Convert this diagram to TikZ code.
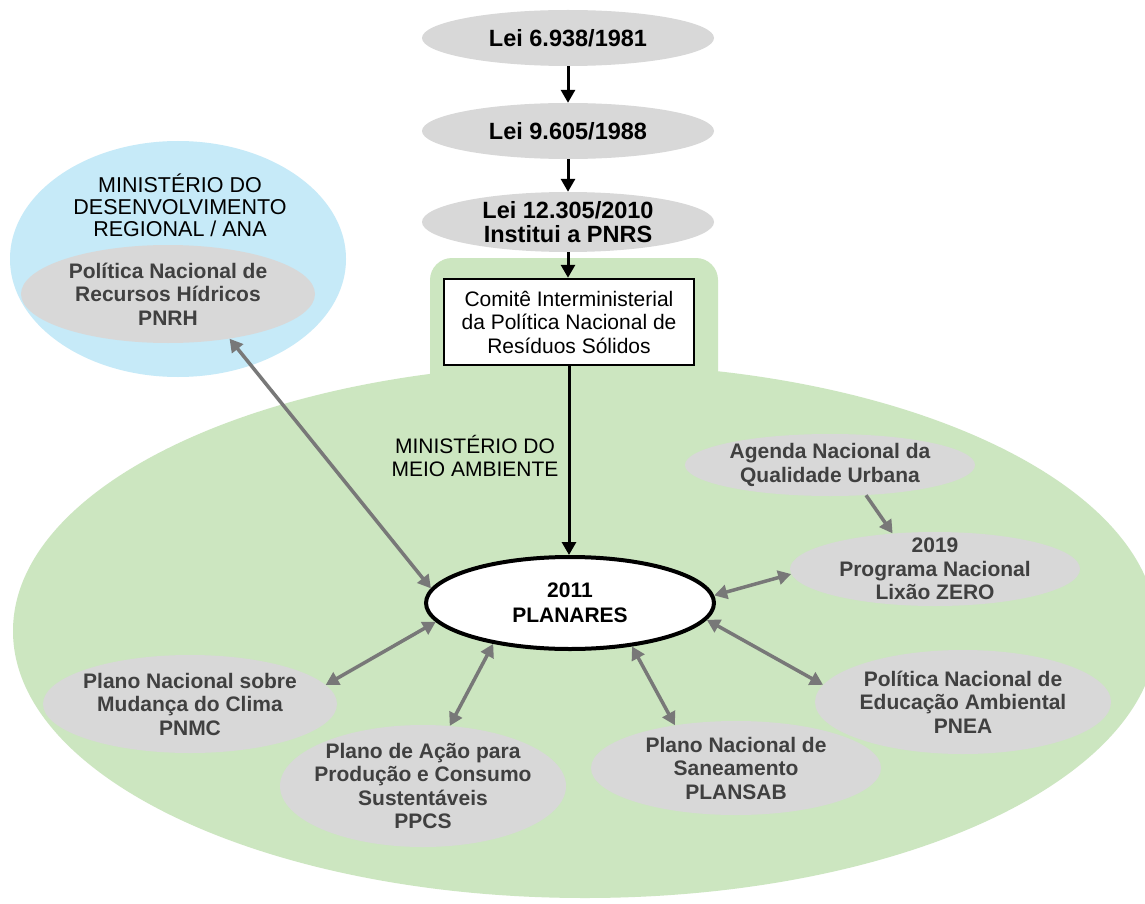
\documentclass[tikz,border=0pt]{standalone}
\usepackage{fontspec}
\setmainfont{Liberation Sans}
\usetikzlibrary{shapes.geometric,arrows.meta}
\definecolor{zonegreen}{RGB}{204,230,192}
\definecolor{zoneblue}{RGB}{198,234,248}
\definecolor{planfill}{RGB}{216,216,216}
\definecolor{plantext}{RGB}{64,64,64}
\definecolor{linkgrey}{RGB}{120,120,120}
\tikzset{
  law/.style={ellipse, fill=planfill, inner sep=-8pt, minimum width=292pt, minimum height=56pt,
    font=\fontsize{23.5}{23.5}\selectfont\bfseries, align=center, text=black},
  plan/.style={ellipse, fill=planfill, inner sep=-10pt, font=\fontsize{21}{23.5}\selectfont\bfseries,
    align=center, text=plantext},
  flow/.style={line width=3pt, -{Triangle[length=13pt,width=14pt]}},
  link/.style={line width=3.5pt, draw=linkgrey, {Triangle[length=13pt,width=14pt]}-{Triangle[length=13pt,width=14pt]}},
  onelink/.style={line width=3.5pt, draw=linkgrey, -{Triangle[length=13pt,width=14pt]}},
  plain/.style={font=\fontsize{21}{23.5}\selectfont, align=center}
}
\begin{document}
\begin{tikzpicture}[x=1pt,y=-1pt]
\useasboundingbox (0,0) rectangle (1145,904);
\fill[white] (0,0) rectangle (1145,904);
% green zone of the environment ministry
\fill[zonegreen] (585,631) ellipse [x radius=572, y radius=267];
\fill[zonegreen, rounded corners=22pt] (430,258) rectangle (718,420);
% blue zone of the regional development ministry
\fill[zoneblue] (178,259) ellipse [x radius=168, y radius=118];
\node[plain, font=\fontsize{21.5}{22}\selectfont] (mdr) at (180,205) {MINISTÉRIO DO\\DESENVOLVIMENTO\\REGIONAL / ANA};
\node[plan, minimum width=294pt, minimum height=98pt] (pnrh) at (168,294)
  {Política Nacional de\\Recursos Hídricos\\PNRH};

% chain of laws
\node[law] (lei1) at (568,38) {Lei 6.938/1981};
\node[law] (lei2) at (568,131) {Lei 9.605/1988};
\node[law, minimum height=60pt] (lei3) at (568,222) {Lei 12.305/2010\\Institui a PNRS};
\node[draw, line width=2.5pt, fill=white, minimum width=250pt, minimum height=86pt, inner sep=2pt,
  plain] (comite) at (569,322) {Comitê Interministerial\\da Política Nacional de\\Resíduos Sólidos};
\node[plain] (mma) at (475,456) {MINISTÉRIO DO\\MEIO AMBIENTE};

% central plan
\node[ellipse, draw, line width=4pt, fill=white, minimum width=288pt, minimum height=92pt, inner sep=0pt,
  font=\fontsize{21}{25}\selectfont\bfseries, align=center] (planares) at (570,603) {2011\\PLANARES};

% related plans
\node[plan, minimum width=290pt, minimum height=62pt] (agenda) at (830,465)
  {Agenda Nacional da\\Qualidade Urbana};
\node[plan, minimum width=290pt, minimum height=74pt] (lixao) at (935,569)
  {2019\\Programa Nacional\\Lixão ZERO};
\node[plan, minimum width=296pt, minimum height=104pt] (pnea) at (963,702)
  {Política Nacional de\\Educação Ambiental\\PNEA};
\node[plan, minimum width=290pt, minimum height=94pt] (plansab) at (736,768)
  {Plano Nacional de\\Saneamento\\PLANSAB};
\node[plan, minimum width=286pt, minimum height=122pt] (ppcs) at (423,786)
  {Plano de Ação para\\Produção e Consumo\\Sustentáveis\\PPCS};
\node[plan, minimum width=294pt, minimum height=98pt] (pnmc) at (190,704)
  {Plano Nacional sobre\\Mudança do Clima\\PNMC};

% legal sequence
\draw[flow] (lei1) -- (lei2);
\draw[flow] (lei2) -- (lei3);
\draw[flow] (lei3.south) -- (lei3.south |- comite.north);
\draw[flow] (comite.south) -- (comite.south |- planares.north);

% links with the central plan
\draw[link] (pnrh.324) -- (planares.174);
\draw[link] (pnmc.8) -- (planares.188);
\draw[link] (ppcs.66) -- (planares.208);
\draw[link] (plansab.145) -- (planares.325);
\draw[link] (pnea.173) -- (planares.353);
\draw[link] (lixao.182) -- (planares.3);
\draw[onelink] (agenda.320) -- (lixao.140);
\end{tikzpicture}
\end{document}
